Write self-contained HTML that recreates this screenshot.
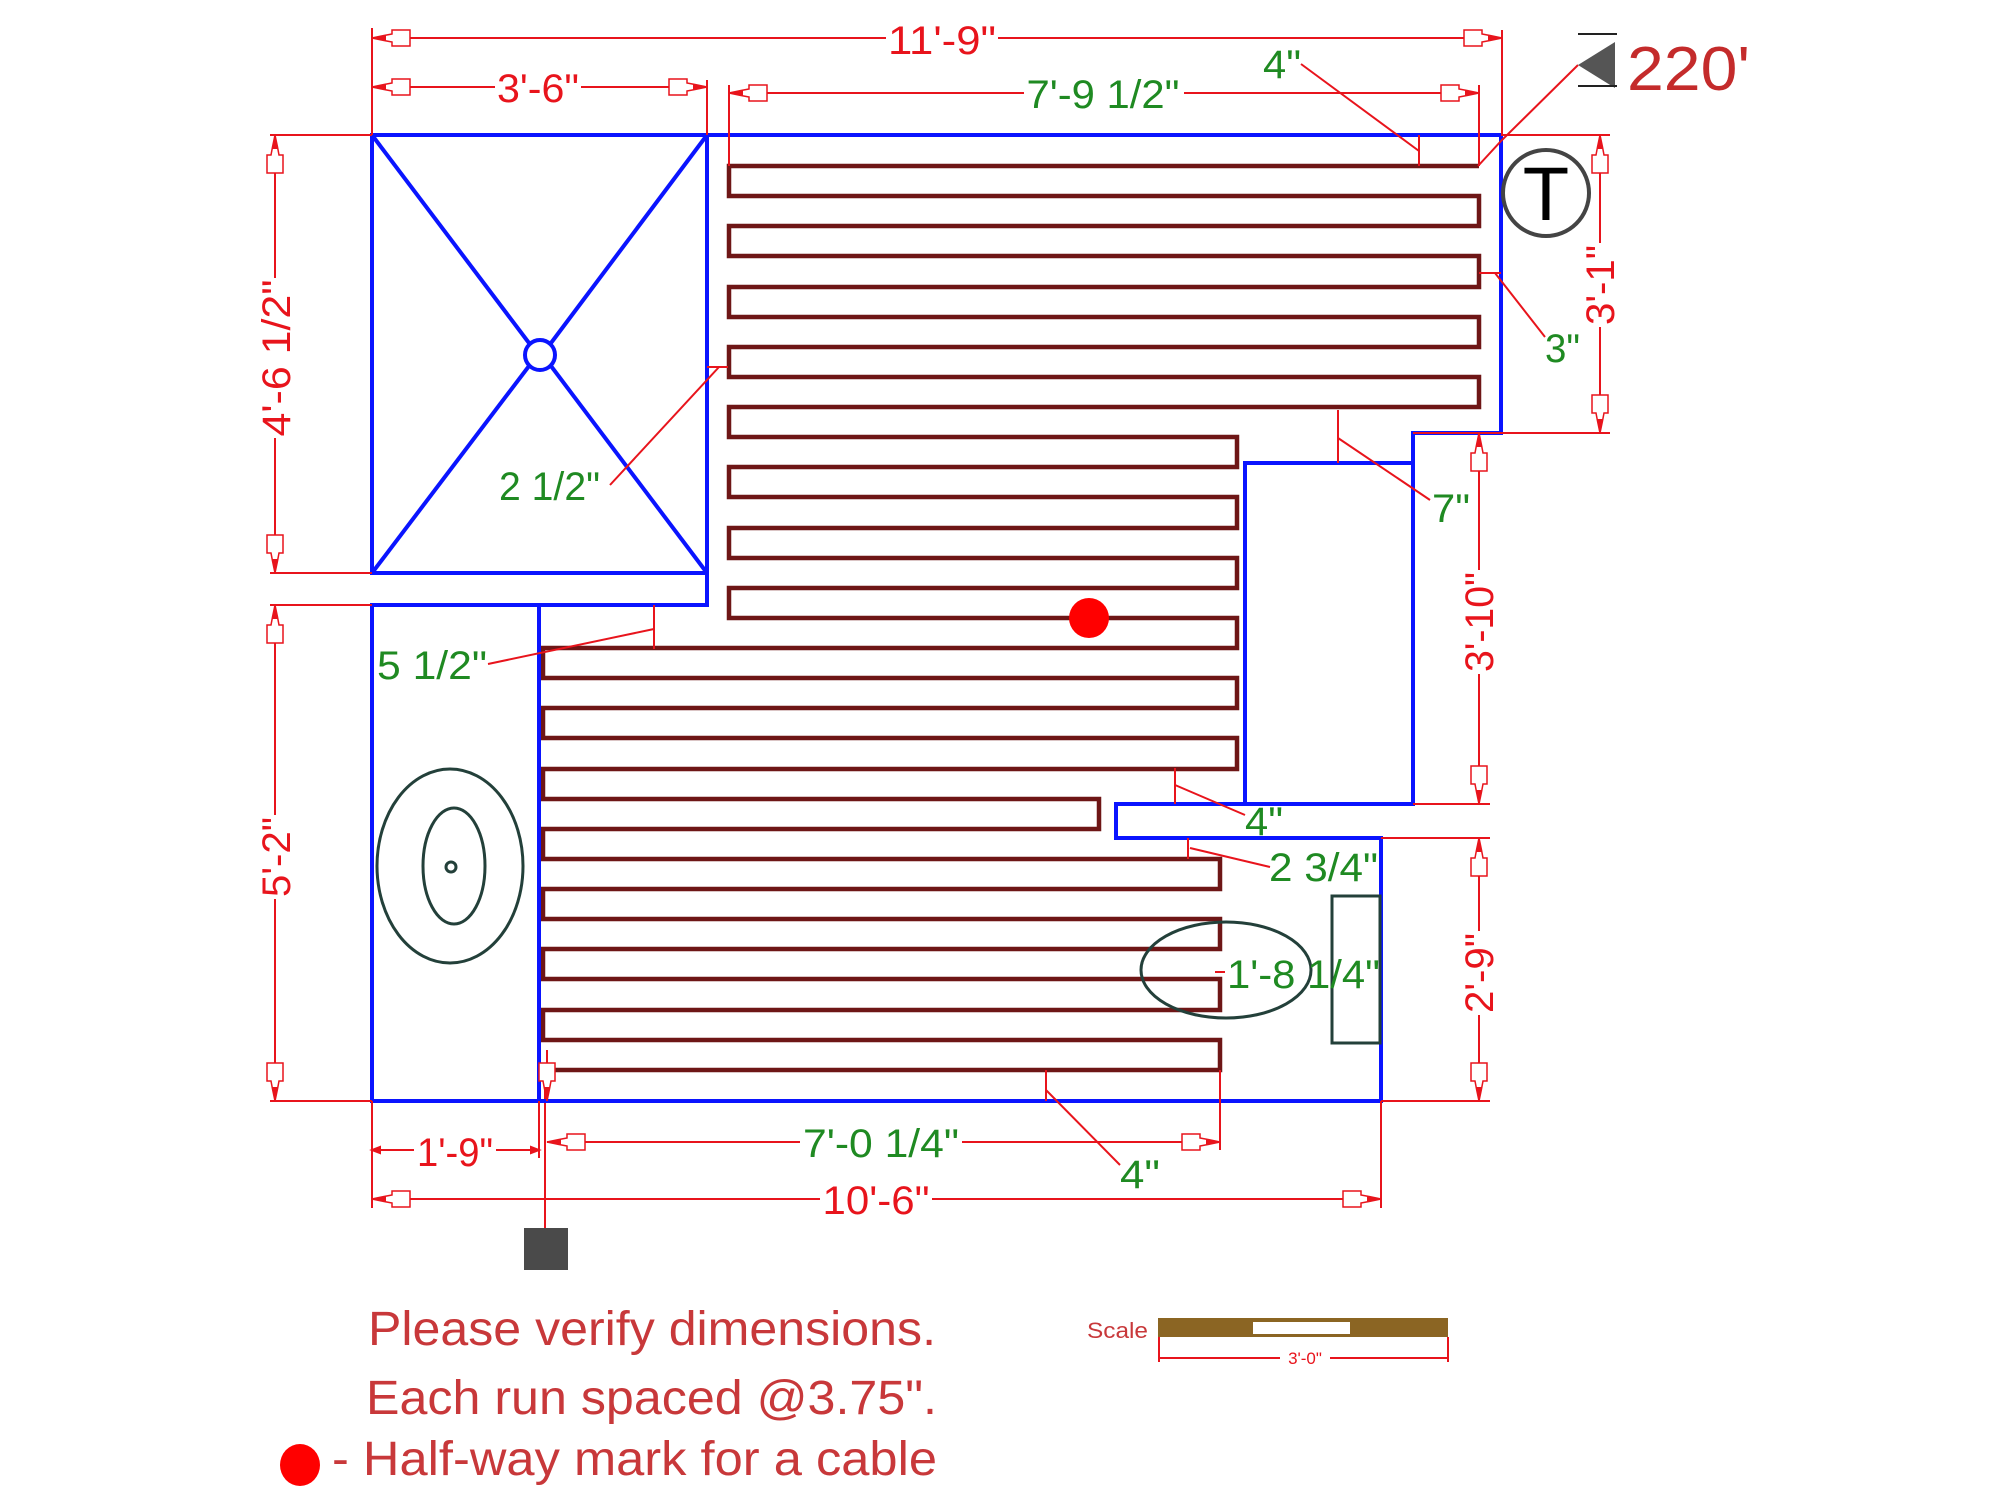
<!DOCTYPE html>
<html><head><meta charset="utf-8"><style>
html,body{margin:0;padding:0;background:#fff}
svg{display:block}
text{font-family:"Liberation Sans",sans-serif}
.r{fill:#e8141c}
.g{fill:#1f8a22}
</style></head><body>
<svg width="2000" height="1499" viewBox="0 0 2000 1499" xmlns="http://www.w3.org/2000/svg">
<defs>
<marker id="a" viewBox="-42 -9 44 18" markerWidth="44" markerHeight="18" refX="0" refY="0" orient="auto-start-reverse" markerUnits="userSpaceOnUse">
<path d="M0,0 L-12,-2.5 L-20,-4 L-20,-8 L-38,-8 L-38,8 L-20,8 L-20,4 L-12,2.5 Z" fill="#fff" stroke="#e8141c" stroke-width="1.5"/>
<path d="M0,0 L-14,-3 L-14,3 Z" fill="#e8141c"/>
</marker>
</defs>

<!-- cable -->
<polyline fill="none" stroke="#6e1616" stroke-width="4.5" stroke-linejoin="miter" points="1479,166 729,166 729,196 1479,196 1479,226 729,226 729,256 1479,256 1479,287 729,287 729,317 1479,317 1479,347 729,347 729,377 1479,377 1479,407 729,407 729,437 1237,437 1237,467 729,467 729,497 1237,497 1237,528 729,528 729,558 1237,558 1237,588 729,588 729,618 1237,618 1237,648 543,648 543,678 1237,678 1237,708 543,708 543,738 1237,738 1237,769 543,769 543,799 1099,799 1099,829 543,829 543,859 1220,859 1220,889 543,889 543,919 1220,919 1220,949 543,949 543,979 1220,979 1220,1010 543,1010 543,1040 1220,1040 1220,1070 543,1070"/>
<line x1="545" y1="1070" x2="545" y2="1228" stroke="#e8141c" stroke-width="2"/>
<rect x="524" y="1228" width="44" height="42" fill="#4a4a4a"/>

<!-- walls -->
<g fill="none" stroke="#0a14ff" stroke-width="4">
<path d="M707,135 L1501,135 L1501,433 L1413,433 L1413,804 L1116,804 L1116,838 L1381,838 L1381,1101 L372,1101 L372,605 L707,605 L707,135"/>
<rect x="372" y="135" width="335" height="438"/>
<line x1="539" y1="605" x2="539" y2="1101"/>
<path d="M1413,463 L1245,463 L1245,804"/>
<line x1="372" y1="135" x2="529" y2="343"/>
<line x1="707" y1="135" x2="551" y2="343"/>
<line x1="372" y1="573" x2="529" y2="366"/>
<line x1="707" y1="573" x2="551" y2="366"/>
<circle cx="540" cy="355" r="15"/>
</g>

<!-- fixtures -->
<g fill="none" stroke="#23403a" stroke-width="3">
<ellipse cx="450" cy="866" rx="73" ry="97"/>
<ellipse cx="454" cy="866" rx="31" ry="58"/>
<circle cx="451" cy="867" r="5"/>
<ellipse cx="1226" cy="970" rx="85" ry="48"/>
<rect x="1332" y="896" width="48" height="147"/>
</g>
<circle cx="1546" cy="193" r="43" fill="none" stroke="#444" stroke-width="4"/>
<text x="1546" y="220" font-size="76" text-anchor="middle" fill="#000">T</text>

<!-- red dot -->
<circle cx="1089" cy="618" r="20" fill="#f00"/>

<!-- dimension lines -->
<g stroke="#e8141c" stroke-width="2" fill="none">
<line x1="372" y1="28" x2="372" y2="135"/>
<line x1="1502" y1="30" x2="1502" y2="135"/>
<line x1="707" y1="80" x2="707" y2="135"/>
<line x1="729" y1="85" x2="729" y2="166"/>
<line x1="1479" y1="85" x2="1479" y2="166"/>
<line x1="270" y1="135" x2="372" y2="135"/>
<line x1="270" y1="573" x2="372" y2="573"/>
<line x1="270" y1="605" x2="372" y2="605"/>
<line x1="270" y1="1101" x2="372" y2="1101"/>
<line x1="1501" y1="135" x2="1610" y2="135"/>
<line x1="1413" y1="433" x2="1610" y2="433"/>
<line x1="1413" y1="804" x2="1490" y2="804"/>
<line x1="1381" y1="838" x2="1490" y2="838"/>
<line x1="1381" y1="1101" x2="1490" y2="1101"/>
<line x1="372" y1="1101" x2="372" y2="1208"/>
<line x1="1381" y1="1101" x2="1381" y2="1208"/>
<line x1="1220" y1="1070" x2="1220" y2="1150"/>
<line x1="539" y1="1101" x2="539" y2="1158"/>
<line x1="372" y1="38" x2="1502" y2="38" marker-start="url(#a)" marker-end="url(#a)"/>
<line x1="372" y1="87" x2="707" y2="87" marker-start="url(#a)" marker-end="url(#a)"/>
<line x1="729" y1="93" x2="1479" y2="93" marker-start="url(#a)" marker-end="url(#a)"/>
<line x1="275" y1="135" x2="275" y2="573" marker-start="url(#a)" marker-end="url(#a)"/>
<line x1="275" y1="605" x2="275" y2="1101" marker-start="url(#a)" marker-end="url(#a)"/>
<line x1="1600" y1="135" x2="1600" y2="433" marker-start="url(#a)" marker-end="url(#a)"/>
<line x1="1479" y1="433" x2="1479" y2="804" marker-start="url(#a)" marker-end="url(#a)"/>
<line x1="1479" y1="838" x2="1479" y2="1101" marker-start="url(#a)" marker-end="url(#a)"/>
<line x1="372" y1="1150" x2="539" y2="1150"/>
<path d="M372,1150 l8,-3 l0,6 z M539,1150 l-8,-3 l0,6 z" fill="#e8141c"/>
<line x1="547" y1="1142" x2="1220" y2="1142" marker-start="url(#a)" marker-end="url(#a)"/>
<line x1="372" y1="1199" x2="1381" y2="1199" marker-start="url(#a)" marker-end="url(#a)"/>
<line x1="547" y1="1050" x2="547" y2="1101" marker-end="url(#a)"/>
<line x1="1301" y1="64" x2="1419" y2="151"/>
<line x1="1419" y1="135" x2="1419" y2="166"/>
<polyline points="1578,65 1502,140 1478,166"/>
<line x1="1479" y1="273" x2="1501" y2="273"/>
<line x1="1495" y1="273" x2="1545" y2="337"/>
<line x1="1338" y1="410" x2="1338" y2="463"/>
<line x1="1338" y1="438" x2="1430" y2="500"/>
<line x1="707" y1="367" x2="728" y2="367"/>
<line x1="719" y1="367" x2="610" y2="485"/>
<line x1="654" y1="605" x2="654" y2="649"/>
<line x1="654" y1="629" x2="488" y2="664"/>
<line x1="1175" y1="768" x2="1175" y2="804"/>
<line x1="1175" y1="785" x2="1245" y2="815"/>
<line x1="1188" y1="838" x2="1188" y2="859"/>
<line x1="1190" y1="848" x2="1270" y2="867"/>
<line x1="1046" y1="1070" x2="1046" y2="1101"/>
<line x1="1046" y1="1090" x2="1120" y2="1165"/>
<line x1="1215" y1="972" x2="1225" y2="972"/>
</g>

<!-- 220' marker -->
<polygon points="1578,65 1615,42 1615,88" fill="#555"/>
<line x1="1578" y1="34" x2="1617" y2="34" stroke="#222" stroke-width="2"/>
<line x1="1578" y1="86" x2="1617" y2="86" stroke="#222" stroke-width="2"/>
<text x="1627" y="90" font-size="62" fill="#c42b2b" textLength="123" lengthAdjust="spacingAndGlyphs">220'</text>

<g class="r" font-size="40">
<rect x="886" y="22" width="112" height="34" fill="#fff"/>
<text x="942" y="54" text-anchor="middle" textLength="108" lengthAdjust="spacingAndGlyphs">11'-9"</text>
<rect x="495" y="70" width="86" height="34" fill="#fff"/>
<text x="538" y="102" text-anchor="middle" textLength="82" lengthAdjust="spacingAndGlyphs">3'-6"</text>
<g transform="translate(290,358) rotate(-90)"><rect x="-80" y="-30" width="160" height="34" fill="#fff"/><text x="0" y="0" text-anchor="middle" textLength="157" lengthAdjust="spacingAndGlyphs">4'-6 1/2"</text></g>
<g transform="translate(290,857) rotate(-90)"><rect x="-42" y="-30" width="84" height="34" fill="#fff"/><text x="0" y="0" text-anchor="middle" textLength="80" lengthAdjust="spacingAndGlyphs">5'-2"</text></g>
<g transform="translate(1614,285) rotate(-90)"><rect x="-42" y="-30" width="84" height="34" fill="#fff"/><text x="0" y="0" text-anchor="middle" textLength="80" lengthAdjust="spacingAndGlyphs">3'-1"</text></g>
<g transform="translate(1493,622) rotate(-90)"><rect x="-52" y="-30" width="104" height="34" fill="#fff"/><text x="0" y="0" text-anchor="middle" textLength="100" lengthAdjust="spacingAndGlyphs">3'-10"</text></g>
<g transform="translate(1493,973) rotate(-90)"><rect x="-42" y="-30" width="84" height="34" fill="#fff"/><text x="0" y="0" text-anchor="middle" textLength="80" lengthAdjust="spacingAndGlyphs">2'-9"</text></g>
<rect x="414" y="1133" width="82" height="34" fill="#fff"/>
<text x="455" y="1166" text-anchor="middle" textLength="76" lengthAdjust="spacingAndGlyphs">1'-9"</text>
<rect x="820" y="1182" width="112" height="34" fill="#fff"/>
<text x="876" y="1214" text-anchor="middle" textLength="107" lengthAdjust="spacingAndGlyphs">10'-6"</text>
</g>

<g class="g" font-size="40">
<rect x="1024" y="76" width="160" height="34" fill="#fff"/>
<text x="1103" y="108" text-anchor="middle" textLength="153" lengthAdjust="spacingAndGlyphs">7'-9 1/2"</text>
<text x="1263" y="78" textLength="38" lengthAdjust="spacingAndGlyphs">4"</text>
<text x="1545" y="362" textLength="35" lengthAdjust="spacingAndGlyphs">3"</text>
<text x="1432" y="522" textLength="38" lengthAdjust="spacingAndGlyphs">7"</text>
<text x="499" y="500" textLength="101" lengthAdjust="spacingAndGlyphs">2 1/2"</text>
<text x="377" y="679" textLength="110" lengthAdjust="spacingAndGlyphs">5 1/2"</text>
<text x="1245" y="835" textLength="38" lengthAdjust="spacingAndGlyphs">4"</text>
<text x="1269" y="881" textLength="109" lengthAdjust="spacingAndGlyphs">2 3/4"</text>
<text x="1227" y="988" textLength="153" lengthAdjust="spacingAndGlyphs">1'-8 1/4"</text>
<rect x="800" y="1125" width="162" height="34" fill="#fff"/>
<text x="803" y="1157" textLength="156" lengthAdjust="spacingAndGlyphs">7'-0 1/4"</text>
<text x="1120" y="1188" textLength="40" lengthAdjust="spacingAndGlyphs">4"</text>
</g>

<g fill="#c8383a" font-size="48">
<text x="368" y="1345" textLength="568" lengthAdjust="spacingAndGlyphs">Please verify dimensions.</text>
<text x="366" y="1414" textLength="571" lengthAdjust="spacingAndGlyphs">Each run spaced @3.75".</text>
<text x="332" y="1475" textLength="605" lengthAdjust="spacingAndGlyphs">- Half-way mark for a cable</text>
</g>
<ellipse cx="300" cy="1465" rx="20" ry="21" fill="#f00"/>

<text x="1087" y="1338" font-size="22" fill="#c8383a" textLength="61" lengthAdjust="spacingAndGlyphs">Scale</text>
<rect x="1158" y="1318" width="290" height="19" fill="#8b6523"/>
<rect x="1253" y="1322" width="97" height="12" fill="#fff"/>
<g stroke="#e8141c" stroke-width="2">
<line x1="1159" y1="1337" x2="1159" y2="1362"/>
<line x1="1448" y1="1337" x2="1448" y2="1362"/>
<line x1="1159" y1="1358" x2="1448" y2="1358"/>
</g>
<rect x="1280" y="1348" width="50" height="18" fill="#fff"/>
<text x="1305" y="1364" font-size="17" fill="#e8141c" text-anchor="middle">3'-0"</text>
</svg>
</body></html>
